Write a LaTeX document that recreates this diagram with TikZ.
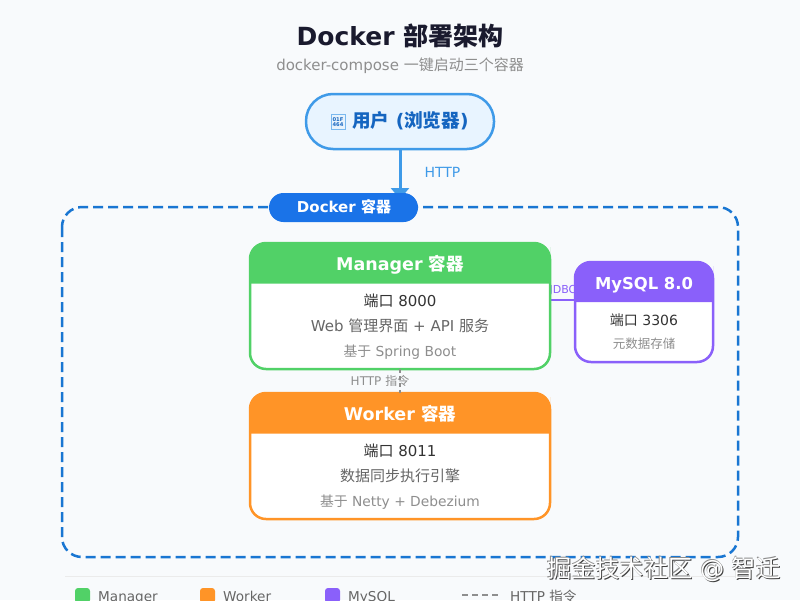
\documentclass[tikz,border=0pt]{standalone}
\usepackage{fontspec}
\setmainfont{DejaVu Sans}
\newfontfamily\cjk{Noto Sans CJK SC}
\usetikzlibrary{arrows.meta}
\newcommand{\zh}[1]{{\cjk #1}}
\newcommand{\fs}[1]{\fontsize{#1}{#1}\selectfont}
\newcommand{\headfill}[5]{\fill[#1,rounded corners=16pt] (#2,#4+20) -- (#2,#4) -- (#3,#4) -- (#3,#4+20) -- (#3,#5-1) [sharp corners] -- (#3,#5) -- (#2,#5) -- cycle;}
\definecolor{bgc}{HTML}{F8FAFC}
\definecolor{titlec}{HTML}{1A1A2E}
\definecolor{blueA}{HTML}{1A73E8}
\definecolor{blueF}{HTML}{1976D2}
\definecolor{blueB}{HTML}{3F9AE8}
\definecolor{blueT}{HTML}{1565C0}
\definecolor{blueL}{HTML}{E8F4FF}
\definecolor{greenC}{HTML}{51D167}
\definecolor{orangeC}{HTML}{FF9427}
\definecolor{purpleC}{HTML}{8A60FA}
\definecolor{txtA}{HTML}{333333}
\definecolor{txtB}{HTML}{666666}
\definecolor{txtC}{HTML}{8E8E8E}
\tikzset{
  lbl/.style={anchor=base,inner sep=0pt,outer sep=0pt},
  boxbody/.style={anchor=north west,inner sep=0pt,outer sep=0pt,fill=white,line width=2.5pt,rounded corners=16pt},
  headtxt/.style={lbl,text=white,font=\fs{17.5}\bfseries},
  porttxt/.style={lbl,text=txtA,font=\fs{15}},
  desctxt/.style={lbl,text=txtB,font=\fs{15}},
  notetxt/.style={lbl,text=txtC,font=\fs{13.8}},
  legsq/.style={anchor=north west,inner sep=0pt,outer sep=0pt,minimum width=15pt,minimum height=15pt,rounded corners=3pt},
  legtxt/.style={anchor=base west,inner sep=0pt,text=txtB,font=\fs{13.6}},
  wm/.style={anchor=base west,inner sep=0pt,font=\fs{24.2}},
}
\begin{document}
\begin{tikzpicture}[x=1pt,y=-1pt]
\useasboundingbox (0,0) rectangle (800,600);
\fill[bgc] (0,0) rectangle (800,600);
\node[lbl,text=titlec,font=\fs{25}\bfseries] (title) at (400,45) {Docker \zh{部署架构}};
\node[lbl,text=txtC,font=\fs{15}] (subtitle) at (400,70) {docker-compose \zh{一键启动三个容器}};
% user
\node[anchor=north west,inner sep=0pt,outer sep=0pt,minimum width=188pt,minimum height=55pt,rounded corners=27pt,fill=blueL,draw=blueB,line width=2.5pt] (user) at (306,94) {};
\node[draw=blueB!70,fill=blueB!12,line width=.5pt,inner sep=0pt,minimum width=14pt,minimum height=15pt,align=center,text=blueT,font=\fs{5.2}\bfseries] (tofu) at (338,122) {01F\\[-.5pt]464};
\node[anchor=base west,inner sep=0pt,text=blueT,font=\fs{18.6}\bfseries] (usertxt) at (352,127) {\zh{用户} (\zh{浏览器})};
% frame
\draw[blueF,line width=2.5pt,dash pattern=on 10pt off 5pt,rounded corners=20pt] (62,207) rectangle (738,557);
\coordinate (arrowend) at (400,199);
\draw[blueB,line width=3pt,-{Triangle[length=11pt,width=18pt]}] (user.south) -- (arrowend);
\node[lbl,text=blueB,font=\fs{14}] (httplbl) at (442.5,177) {HTTP};
\node[anchor=north west,inner sep=0pt,outer sep=0pt,minimum width=149pt,minimum height=29pt,rounded corners=14.5pt,fill=blueA] (badge) at (269,193) {};
\node[lbl,text=white,font=\fs{15}\bfseries] (badgetxt) at (344,212) {Docker \zh{容器}};
% connectors behind boxes
\coordinate (jdbcM) at (550,300);
\coordinate (jdbcS) at (575,300);
\draw[purpleC,line width=2pt] (jdbcM) -- (jdbcS);
\node[lbl,text=purpleC,font=\fs{11}] (jdbclbl) at (563,293) {JDBC};
% Manager
\node[boxbody,draw=greenC,minimum width=300pt,minimum height=126pt] (mgr) at (250,243) {};
\headfill{greenC}{250}{550}{243}{283.5}
\node[headtxt] (mgrh) at (400,270) {Manager \zh{容器}};
\node[porttxt] (mgrp) at (400,306) {\zh{端口} 8000};
\node[desctxt] (mgrd) at (400,331) {Web \zh{管理界面} + API \zh{服务}};
\node[notetxt] (mgrn) at (400,356) {\zh{基于} Spring Boot};
% Worker
\node[boxbody,draw=orangeC,minimum width=300pt,minimum height=126pt] (wrk) at (250,393) {};
\headfill{orangeC}{250}{550}{393}{433.5}
\node[headtxt] (wrkh) at (400,420) {Worker \zh{容器}};
\node[porttxt] (wrkp) at (400,456) {\zh{端口} 8011};
\node[desctxt] (wrkd) at (400,481) {\zh{数据同步执行引擎}};
\node[notetxt] (wrkn) at (400,506) {\zh{基于} Netty + Debezium};
% MySQL
\node[boxbody,draw=purpleC,minimum width=138pt,minimum height=100pt] (sql) at (575,262) {};
\headfill{purpleC}{575}{713}{262}{302}
\node[headtxt,font=\fs{16.4}\bfseries] (sqlh) at (644,289) {MySQL 8.0};
\node[porttxt,font=\fs{14}] (sqlp) at (644,325) {\zh{端口} 3306};
\node[notetxt,font=\fs{12.5}] (sqln) at (644,348) {\zh{元数据存储}};
% http command
\draw[txtC,line width=1.5pt,dash pattern=on 4pt off 3pt] (mgr.south) -- (wrk.north);
\node[lbl,text=txtC,font=\fs{12}] (cmd) at (380,385) {HTTP \zh{指令}};
% legend
\draw[black!8,line width=1pt] (65,576) -- (735,576);
\node[legsq,fill=greenC] (l1) at (75,588) {};
\node[legtxt] (l1t) at (98,601) {Manager};
\node[legsq,fill=orangeC] (l2) at (200,588) {};
\node[legtxt] (l2t) at (223,601) {Worker};
\node[legsq,fill=purpleC] (l3) at (325,588) {};
\node[legtxt] (l3t) at (348,601) {MySQL};
\coordinate (l4a) at (462,595);
\coordinate (l4b) at (500,595);
\draw[txtC,line width=1.5pt,dash pattern=on 6pt off 4pt] (l4a) -- (l4b);
\node[legtxt] (l4t) at (510,601) {HTTP \zh{指令}};
% watermark
\node[wm,text=black!75] (wm1) at (548,578) {\zh{掘金技术社区} @ \zh{智迁}};
\node[wm,text=black!45] (wm3) at (546.6,576.6) {\zh{掘金技术社区} @ \zh{智迁}};
\node[wm,text=white] (wm2) at (547,577) {\zh{掘金技术社区} @ \zh{智迁}};
\end{tikzpicture}
\end{document}
